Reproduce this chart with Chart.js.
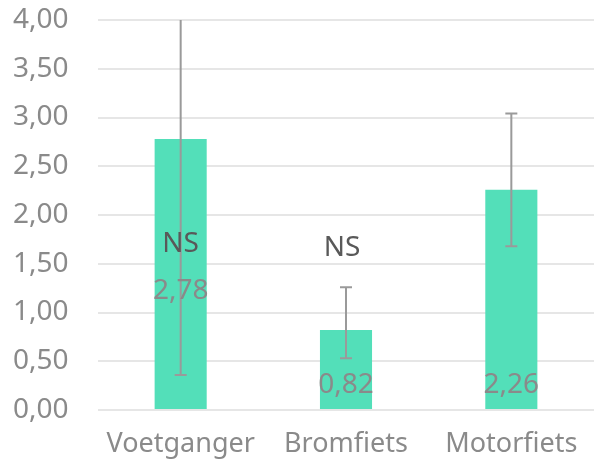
<!DOCTYPE html>
<html>
<head>
<meta charset="utf-8">
<script src="https://cdn.jsdelivr.net/npm/chart.js@4"></script>
<style>
  html,body{margin:0;padding:0;background:#fff;}
  #wrap{width:598px;height:466px;}
</style>
</head>
<body>
<div id="wrap"><canvas id="c" width="598" height="466"></canvas></div>
<script>
const categories = ['Voetganger','Bromfiets','Motorfiets'];
const values = [2.78, 0.82, 2.26];
const errLow = [0.36, 0.53, 1.68];
const errHigh = [5.20, 1.26, 3.04];
const valueLabelAt = [1.22, 0.26, 0.26];
const notes = ['NS', 'NS', ''];
const noteAt = [1.70, 1.66, null];
const yTicks = [0, 0.5, 1, 1.5, 2, 2.5, 3, 3.5, 4];

const FONT = '"Noto Sans", sans-serif';
const fmt = v => v.toFixed(2).replace('.', ',');

const overlay = {
  id: 'overlay',
  afterDatasetsDraw(chart){
    const {ctx, chartArea, scales:{x, y}} = chart;
    // error bars
    ctx.save();
    ctx.beginPath();
    ctx.rect(chartArea.left, chartArea.top, chartArea.right-chartArea.left, chartArea.bottom-chartArea.top);
    ctx.clip();
    ctx.strokeStyle = '#9a9a9a';
    ctx.lineWidth = 2;
    categories.forEach((c,i)=>{
      const cx = x.getPixelForValue(i);
      const y1 = y.getPixelForValue(errLow[i]), y2 = y.getPixelForValue(errHigh[i]);
      ctx.beginPath();
      ctx.moveTo(cx, y1); ctx.lineTo(cx, y2);
      ctx.moveTo(cx-6, y1); ctx.lineTo(cx+6, y1);
      ctx.moveTo(cx-6, y2); ctx.lineTo(cx+6, y2);
      ctx.stroke();
    });
    ctx.restore();
    // labels
    ctx.save();
    ctx.font = '28px ' + FONT;
    ctx.textAlign = 'center';
    ctx.textBaseline = 'middle';
    categories.forEach((c,i)=>{
      const cx = x.getPixelForValue(i);
      ctx.fillStyle = '#8a8a8a';
      ctx.fillText(fmt(values[i]), cx, y.getPixelForValue(valueLabelAt[i]));
      if(notes[i]){
        ctx.fillStyle = '#595959';
        ctx.fillText(notes[i], cx - (i===1 ? 4 : 0), y.getPixelForValue(noteAt[i]));
      }
    });
    ctx.restore();
  }
};

new Chart(document.getElementById('c'), {
  type: 'bar',
  data: {
    labels: categories,
    datasets: [{
      data: values,
      backgroundColor: '#53dfb9',
      borderWidth: 0,
      barPercentage: 0.315,
      categoryPercentage: 1
    }]
  },
  options: {
    responsive: false,
    animation: false,
    layout: {padding: {top: 20, right: 4, left: 13, bottom: 0}},
    plugins: {legend: {display: false}, tooltip: {enabled: false}},
    scales: {
      x: {
        grid: {display: false},
        border: {display: false},
        ticks: {color: '#8a8a8a', font: {family: FONT, size: 27}, padding: 10},
        afterFit(s){ s.height = 56; }
      },
      y: {
        min: 0, max: 4,
        afterBuildTicks(s){ s.ticks = yTicks.map(v => ({value: v})); },
        grid: {color: '#e6e6e6', lineWidth: 2, drawTicks: false},
        border: {display: false},
        ticks: {color: '#8a8a8a', font: {family: FONT, size: 28}, padding: 2, crossAlign: 'far', callback: v => fmt(v)},
        afterFit(s){ s.width = 85; }
      }
    }
  },
  plugins: [overlay]
});
</script>
</body>
</html>
